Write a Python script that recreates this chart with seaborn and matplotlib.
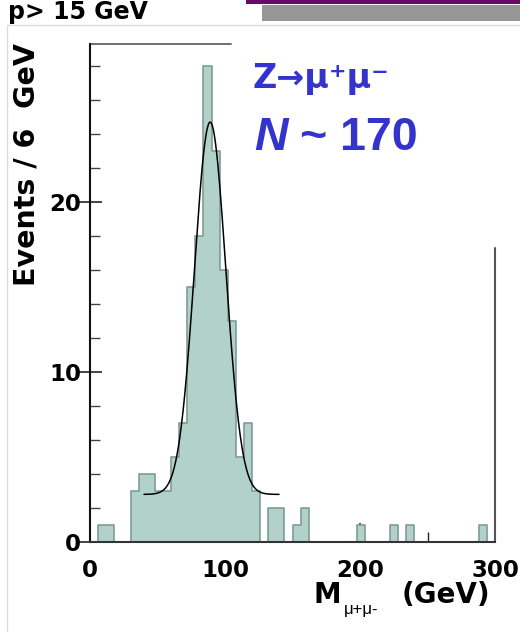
import numpy as np
import pandas as pd
import matplotlib
matplotlib.use("Agg")
import matplotlib.pyplot as plt
import matplotlib.patches as mpatches
import matplotlib.lines as mlines
from matplotlib.ticker import MultipleLocator, FixedLocator
import seaborn as sns

# ---- data ----
bin_low_gev = [6, 12, 30, 36, 42, 48, 54, 60, 66, 72, 78, 84, 90, 96, 102,
               108, 114, 120, 132, 138, 150, 156, 198, 222, 234, 288]
bin_counts = [1, 1, 3, 4, 4, 3, 3, 5, 7, 15, 18, 28, 23, 16, 13,
              5, 7, 3, 2, 2, 1, 2, 1, 1, 1, 1]
bin_width = 6
x_ticks = [0, 100, 200, 300]
y_ticks = [0, 10, 20]

# fitted curve parameters (Gaussian + flat background)
fit_peak_amp = 21.9
fit_mean = 89.0
fit_sigma = 11.6
fit_bkg = 2.8
fit_range = [40, 140]

# ---- style ----
sns.set_style("ticks")
plt.rcParams['font.family'] = ['DejaVu Sans']
plt.rcParams['text.color'] = 'black'
plt.rcParams['xtick.labelcolor'] = 'black'
plt.rcParams['ytick.labelcolor'] = 'black'

W, H = 520, 632
fig = plt.figure(figsize=(W / 100, H / 100), dpi=100)

def fx(px):
    return px / W

def fy(py):
    return 1 - py / H

ax_left, ax_right, ax_top, ax_bottom = 90, 495, 44, 542
ax = fig.add_axes([fx(ax_left), fy(ax_bottom), (ax_right - ax_left) / W, (ax_bottom - ax_top) / H])

df = pd.DataFrame({"mass": [b + bin_width / 2 for b in bin_low_gev], "n": bin_counts})
sns.histplot(data=df, x="mass", weights="n", binwidth=bin_width, binrange=(0, 300),
             element="step", fill=True,
             color="#b2d2c9", alpha=1.0, edgecolor="#7f9c98", linewidth=1.2, ax=ax)

xs = np.linspace(fit_range[0], fit_range[1], 300)
ys = fit_bkg + fit_peak_amp * np.exp(-0.5 * ((xs - fit_mean) / fit_sigma) ** 2)
sns.lineplot(x=xs, y=ys, color="black", linewidth=1.1, ax=ax)

ymax = (ax_bottom - ax_top) / 17.0
ax.set_xlim(0, 300)
ax.set_ylim(0, ymax)
ax.set_xlabel("")
ax.set_ylabel("")

ax.xaxis.set_major_locator(FixedLocator(x_ticks))
ax.xaxis.set_minor_locator(MultipleLocator(50))
ax.yaxis.set_major_locator(FixedLocator(y_ticks))
ax.yaxis.set_minor_locator(MultipleLocator(2))
ax.tick_params(axis="x", which="major", direction="in", length=14, width=1.2, color="#222222",
               pad=12, labelsize=16.5, labelcolor="black")
ax.tick_params(axis="x", which="minor", direction="in", length=7, width=1.0, color="#222222")
ax.tick_params(axis="y", which="major", direction="inout", length=17, width=1.2, color="#222222",
               pad=-2, labelsize=16.5, labelcolor="black")
ax.tick_params(axis="y", which="minor", direction="in", length=7, width=1.0, color="#444444")
for lab in ax.get_xticklabels() + ax.get_yticklabels():
    lab.set_fontweight("bold")

ax.spines["top"].set_visible(False)
ax.spines["right"].set_visible(False)
ax.spines["left"].set_color("#111111")
ax.spines["left"].set_linewidth(1.5)
ax.spines["bottom"].set_color("#333333")
ax.spines["bottom"].set_linewidth(1.5)

# partial frame: top and right
ax.plot([0, 104.4], [ymax, ymax], color="#6f6f6f", lw=1.4, clip_on=False)
ax.plot([300, 300], [0, (ax_bottom - 248) / 17.0], color="#555555", lw=1.5, clip_on=False)

# y label
fig.text(fx(27), fy(165), "Events / 6  GeV", rotation=90, ha="center", va="center",
         fontsize=20.5, fontweight="bold", color="black")

# x label pieces
fig.text(fx(313), fy(603), "M", ha="left", va="baseline", fontsize=20, fontweight="bold",
         color="black")
fig.text(fx(344), fy(614), "\u03bc+\u03bc-", ha="left", va="baseline", fontsize=12,
         family=["Liberation Sans", "DejaVu Sans"], color="black")
fig.text(fx(402), fy(603), "(GeV)", ha="left", va="baseline", fontsize=20, fontweight="bold",
         color="black")

# blue annotations
blue = "#3434cc"
fig.text(fx(252), fy(88), "Z\u2192\u03bc\u207a\u03bc\u207b", ha="left", va="baseline",
         fontsize=24, fontweight="bold", color=blue, family=["DejaVu Sans"])
fig.text(fx(254), fy(150), "N", ha="left", va="baseline", fontsize=33.5, fontweight="bold",
         fontstyle="italic", color=blue, family=["Liberation Sans", "DejaVu Sans"])
fig.text(fx(300), fy(150), "~ 170", ha="left", va="baseline", fontsize=33.5, fontweight="bold",
         color=blue, family=["Liberation Sans", "DejaVu Sans"])

# cropped header text
fig.text(fx(8), fy(19), "p> 15 GeV", ha="left", va="baseline", fontsize=17, fontweight="bold",
         color="black")

# slide decorations
fig.add_artist(mpatches.Rectangle((fx(246), fy(4)), fx(520) - fx(246), 4 / H,
                                  transform=fig.transFigure, color="#690a69", lw=0))
fig.add_artist(mpatches.Rectangle((fx(262), fy(20.5)), fx(520) - fx(262), 15.5 / H,
                                  transform=fig.transFigure, color="#969696", lw=0))
fig.add_artist(mlines.Line2D([fx(7), 1], [fy(25), fy(25)], transform=fig.transFigure,
                             color="#dcdcdc", lw=1))
fig.add_artist(mlines.Line2D([fx(7), fx(7)], [fy(25), 0], transform=fig.transFigure,
                             color="#dcdcdc", lw=1))

fig.savefig("out.png", dpi=100)
